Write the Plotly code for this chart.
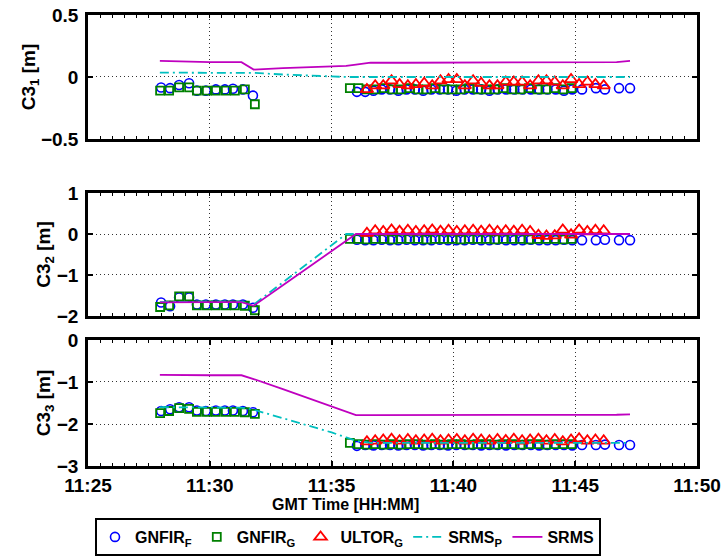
import plotly.graph_objects as go

# ---- time axis (minutes after 11:00 GMT) ----
tick_minutes = [25, 30, 35, 40, 45, 50]
tick_labels = ["11:25", "11:30", "11:35", "11:40", "11:45", "11:50"]

# ---- GNFIR_F (circles) ----
t_gnfir_f = [28.00, 28.37, 28.74, 29.15, 29.47, 29.84, 30.25, 30.62, 30.95, 31.36, 31.77,
             36.04, 36.38, 36.72, 37.06, 37.40, 37.74, 38.08, 38.42, 38.76, 39.10, 39.44,
             39.78, 40.12, 40.46, 40.80, 41.14, 41.48, 41.82, 42.16, 42.50, 42.84, 43.18,
             43.52, 43.86, 44.20, 44.54, 44.88, 45.28, 45.85, 46.22, 46.80, 47.25]
c31_gnfir_f = [-0.085, -0.09, -0.065, -0.05, -0.11, -0.11, -0.10, -0.10, -0.095, -0.10, -0.15,
               -0.12, -0.12, -0.11, -0.10, -0.10, -0.11, -0.10, -0.10, -0.11, -0.10, -0.10,
               -0.10, -0.11, -0.10, -0.10, -0.10, -0.11, -0.10, -0.10, -0.10, -0.10, -0.10,
               -0.10, -0.10, -0.10, -0.11, -0.10, -0.10, -0.09, -0.10, -0.09, -0.09]
c32_gnfir_f = [-1.67, -1.76, -1.55, -1.55, -1.72, -1.72, -1.72, -1.72, -1.72, -1.72, -1.80,
               -0.14, -0.15, -0.15, -0.14, -0.15, -0.15, -0.14, -0.15, -0.15, -0.15, -0.14,
               -0.15, -0.15, -0.15, -0.14, -0.15, -0.15, -0.14, -0.15, -0.15, -0.15, -0.14,
               -0.15, -0.15, -0.15, -0.14, -0.15, -0.15, -0.15, -0.14, -0.15, -0.15]
c33_gnfir_f = [-1.69, -1.65, -1.60, -1.60, -1.68, -1.69, -1.68, -1.68, -1.68, -1.69, -1.72,
               -2.52, -2.50, -2.51, -2.50, -2.50, -2.51, -2.50, -2.50, -2.51, -2.50, -2.50,
               -2.51, -2.50, -2.50, -2.50, -2.51, -2.50, -2.50, -2.51, -2.50, -2.50, -2.50,
               -2.51, -2.50, -2.50, -2.50, -2.51, -2.50, -2.50, -2.49, -2.50, -2.50]

# ---- GNFIR_G (squares) ----
t_gnfir_g = [27.96, 28.33, 28.74, 29.15, 29.47, 29.88, 30.25, 30.66, 31.03, 31.44, 31.85,
             35.75, 36.10, 36.45, 36.80, 37.15, 37.50, 37.85, 38.20, 38.55, 38.90, 39.25,
             39.60, 39.95, 40.30, 40.65, 41.00, 41.35, 41.70, 42.05, 42.40, 42.75, 43.10,
             43.45, 43.80, 44.15, 44.50, 44.85]
c31_gnfir_g = [-0.11, -0.11, -0.083, -0.083, -0.11, -0.11, -0.11, -0.11, -0.11, -0.10, -0.22,
               -0.09, -0.09, -0.10, -0.10, -0.09, -0.10, -0.10, -0.09, -0.10, -0.10, -0.09,
               -0.10, -0.10, -0.10, -0.09, -0.10, -0.10, -0.10, -0.09, -0.10, -0.10, -0.09,
               -0.10, -0.10, -0.09, -0.10, -0.09]
c32_gnfir_g = [-1.78, -1.74, -1.52, -1.52, -1.74, -1.74, -1.74, -1.74, -1.74, -1.75, -1.86,
               -0.12, -0.12, -0.13, -0.12, -0.12, -0.13, -0.12, -0.12, -0.12, -0.13, -0.12,
               -0.12, -0.12, -0.13, -0.12, -0.12, -0.12, -0.13, -0.12, -0.12, -0.12, -0.13,
               -0.12, -0.12, -0.12, -0.13, -0.12]
c33_gnfir_g = [-1.74, -1.69, -1.62, -1.64, -1.71, -1.71, -1.71, -1.71, -1.71, -1.72, -1.76,
               -2.45, -2.48, -2.49, -2.48, -2.49, -2.48, -2.49, -2.48, -2.48, -2.49, -2.48,
               -2.49, -2.48, -2.48, -2.49, -2.48, -2.48, -2.49, -2.48, -2.48, -2.49, -2.48,
               -2.48, -2.49, -2.48, -2.48, -2.48]

# ---- ULTOR_G (triangles) ----
t_ultor_g = [36.45, 36.79, 37.12, 37.46, 37.79, 38.13, 38.46, 38.80, 39.13, 39.47,
             39.80, 40.14, 40.47, 40.81, 41.14, 41.48, 41.81, 42.15, 42.48, 42.82,
             43.15, 43.49, 43.82, 44.16, 44.49, 44.83, 45.16, 45.50, 45.83, 46.17]
c31_ultor_g = [-0.10, -0.07, -0.07, -0.03, -0.06, -0.07, -0.06, -0.05, -0.07, -0.03,
               -0.02, -0.02, -0.07, -0.03, -0.05, -0.07, -0.07, -0.04, -0.04, -0.04,
               -0.07, -0.03, -0.03, -0.04, -0.07, -0.02, -0.06, -0.04, -0.06, -0.07]
c32_ultor_g = [0.02, 0.08, 0.06, 0.10, 0.07, 0.09, 0.06, 0.08, 0.10, 0.07,
               0.09, 0.06, 0.08, 0.09, 0.07, 0.09, 0.06, 0.08, 0.07, 0.09,
               0.06, -0.03, -0.05, -0.04, 0.10, -0.02, 0.10, 0.06, 0.09, 0.08]
c33_ultor_g = [-2.42, -2.40, -2.38, -2.36, -2.40, -2.37, -2.40, -2.38, -2.36, -2.40,
               -2.38, -2.37, -2.40, -2.36, -2.38, -2.40, -2.37, -2.39, -2.36, -2.40,
               -2.38, -2.36, -2.40, -2.37, -2.42, -2.38, -2.35, -2.40, -2.38, -2.40]

# ---- SRMS_P (dash-dot) and SRMS (solid) ----
t_srms = [27.95, 29.0, 30.0, 31.3, 31.8, 33.0, 34.0, 35.0, 35.6, 36.0, 36.6,
          38.0, 40.0, 42.0, 44.0, 46.0, 46.7, 47.25]
c31_srms_p = [0.035, 0.035, 0.035, 0.035, 0.033, 0.02, 0.01, 0.004, 0.0, 0.0, 0.0,
              0.0, 0.0, 0.0, 0.0, 0.0, 0.0, 0.0]
c32_srms_p = [-1.66, -1.65, -1.65, -1.65, -1.72, -1.18, -0.72, -0.27, 0.0, 0.0, 0.0,
              0.0, 0.0, 0.0, 0.0, 0.0, 0.0, 0.0]
c33_srms_p = [-1.60, -1.60, -1.60, -1.61, -1.66, -1.86, -2.03, -2.20, -2.32, -2.40, -2.45,
              -2.45, -2.45, -2.45, -2.45, -2.45, -2.45, -2.45]
c31_srms = [0.13, 0.125, 0.12, 0.12, 0.06, 0.072, 0.08, 0.087, 0.09, 0.10, 0.115,
            0.115, 0.115, 0.115, 0.115, 0.115, 0.12, 0.13]
c32_srms = [-1.67, -1.66, -1.66, -1.66, -1.75, -1.25, -0.83, -0.42, -0.17, 0.0, 0.0,
            0.0, 0.0, 0.0, 0.0, 0.0, 0.0, 0.0]
c33_srms = [-0.83, -0.84, -0.84, -0.84, -0.93, -1.17, -1.38, -1.58, -1.71, -1.79, -1.79,
            -1.79, -1.79, -1.79, -1.79, -1.79, -1.78, -1.77]

panels = [
    ("C3<sub>1</sub> [m]", [-0.5, 0.5], [-0.5, 0, 0.5],
     c31_gnfir_f, c31_gnfir_g, c31_ultor_g, c31_srms_p, c31_srms),
    ("C3<sub>2</sub> [m]", [-2, 1], [-2, -1, 0, 1],
     c32_gnfir_f, c32_gnfir_g, c32_ultor_g, c32_srms_p, c32_srms),
    ("C3<sub>3</sub> [m]", [-3, 0], [-3, -2, -1, 0],
     c33_gnfir_f, c33_gnfir_g, c33_ultor_g, c33_srms_p, c33_srms),
]
domains = [[0.7251, 1.0], [0.3326, 0.6053], [0.0, 0.2794]]

FONT = "Liberation Sans, Arial, Helvetica, sans-serif"
BLUE, GREEN, RED = "#0000ff", "#008000", "#ff0000"
CYAN, MAGENTA = "#00bfbf", "#bf00bf"

fig = go.Figure()
layout = dict(
    width=723, height=558,
    margin=dict(l=88, r=26, t=15, b=92, autoexpand=False),
    paper_bgcolor="white", plot_bgcolor="white",
    font=dict(family=FONT, size=19, color="black", weight="bold"),
    showlegend=True,
)

for i, (title, yr, yt, gf, gg, ug, sp, sr) in enumerate(panels):
    n = i + 1
    xa = "x" if n == 1 else f"x{n}"
    ya = "y" if n == 1 else f"y{n}"
    first = (n == 1)
    fig.add_trace(go.Scatter(
        x=t_gnfir_f, y=gf, xaxis=xa, yaxis=ya, mode="markers",
        name="GNFIR<sub>F</sub>", legendgroup="f", showlegend=first,
        marker=dict(symbol="circle-open", size=9, color=BLUE, line=dict(width=1.6, color=BLUE))))
    fig.add_trace(go.Scatter(
        x=t_gnfir_g, y=gg, xaxis=xa, yaxis=ya, mode="markers",
        name="GNFIR<sub>G</sub>", legendgroup="g", showlegend=first,
        marker=dict(symbol="square-open", size=8, color=GREEN, line=dict(width=1.8, color=GREEN))))
    fig.add_trace(go.Scatter(
        x=t_ultor_g, y=ug, xaxis=xa, yaxis=ya, mode="markers",
        name="ULTOR<sub>G</sub>", legendgroup="u", showlegend=first,
        marker=dict(symbol="triangle-up-open", size=11, color=RED, line=dict(width=1.8, color=RED))))
    fig.add_trace(go.Scatter(
        x=t_srms, y=sp, xaxis=xa, yaxis=ya, mode="lines",
        name="SRMS<sub>P</sub>", legendgroup="p", showlegend=first,
        line=dict(color=CYAN, width=1.8, dash="9px,4px,2px,4px")))
    fig.add_trace(go.Scatter(
        x=t_srms, y=sr, xaxis=xa, yaxis=ya, mode="lines",
        name="SRMS", legendgroup="s", showlegend=first,
        line=dict(color=MAGENTA, width=1.8)))

    bottom = (n == 3)
    layout["xaxis" if n == 1 else f"xaxis{n}"] = dict(
        domain=[0, 1], anchor=ya, range=[25, 50],
        tickmode="array", tickvals=tick_minutes,
        ticktext=tick_labels if bottom else [""] * len(tick_labels),
        showticklabels=bottom,
        ticks="inside", ticklen=5, tickwidth=1.5, tickcolor="black",
        minor=dict(tickmode="linear", tick0=25, dtick=0.5, ticks="inside",
                   ticklen=3, tickwidth=1.2, tickcolor="black", showgrid=False),
        showline=True, linewidth=2.5, linecolor="black", mirror="ticks",
        showgrid=True, gridcolor="#333333", gridwidth=1, griddash="1px,3px",
        zeroline=False, ticklabelstandoff=0,
        tickfont=dict(size=19, family=FONT, weight="bold"),
    )
    layout["yaxis" if n == 1 else f"yaxis{n}"] = dict(
        domain=domains[i], anchor=xa, range=yr,
        tickmode="array", tickvals=yt,
        ticks="inside", ticklen=5, tickwidth=1.5, tickcolor="black",
        showline=True, linewidth=2.5, linecolor="black", mirror="ticks",
        showgrid=True, gridcolor="#333333", gridwidth=1, griddash="1px,3px",
        zeroline=False, ticklabelstandoff=3,
        tickfont=dict(size=19, family=FONT, weight="bold"),
        title=dict(text=title, standoff=1, font=dict(size=19, family=FONT, weight="bold")),
    )

layout["annotations"] = [dict(
    text="GMT Time [HH:MM]", xref="paper", yref="paper",
    x=(345 - 88) / 609, y=(466 - 504) / 451, xanchor="center", yanchor="middle",
    showarrow=False, font=dict(size=16, family=FONT, weight="bold"))]

layout["legend"] = dict(
    orientation="h", x=(348 - 88) / 609, xanchor="center",
    y=(466 - 518) / 451, yanchor="top",
    bordercolor="black", borderwidth=2, bgcolor="white",
    font=dict(size=16, family=FONT, weight="bold"),
    itemwidth=30, tracegroupgap=0,
)

fig.update_layout(**layout)
fig.write_html("out.html")
